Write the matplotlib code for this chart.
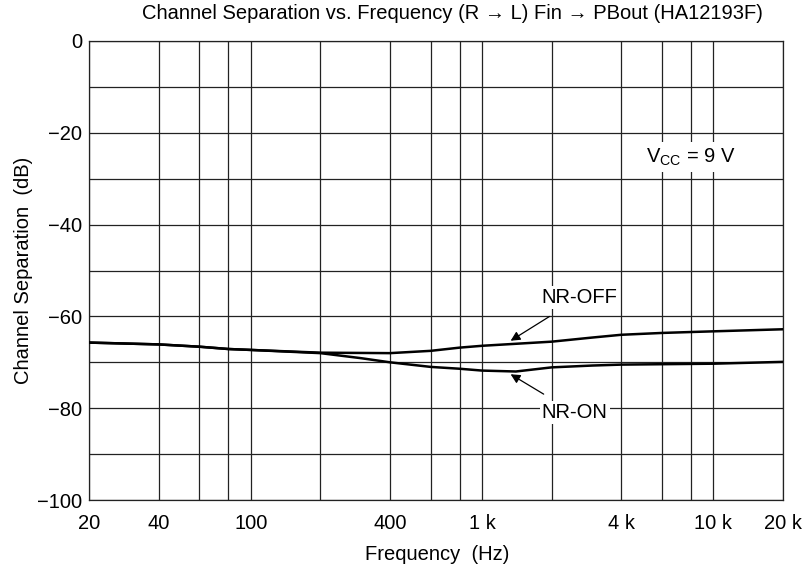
import matplotlib
matplotlib.use("Agg")
import matplotlib.pyplot as plt
from matplotlib.ticker import FixedLocator, NullFormatter, NullLocator

plt.rcParams["font.family"] = ["Liberation Sans", "DejaVu Sans"]
plt.rcParams["mathtext.fontset"] = "custom"
plt.rcParams["mathtext.rm"] = "Liberation Sans"

# Data
freq_off = [20, 40, 60, 80, 100, 200, 400, 600, 800, 1000, 2000, 3000, 4000, 6000, 8000, 10000, 20000]
nr_off = [-65.7, -66.1, -66.6, -67.1, -67.3, -67.9, -68.0, -67.5, -66.8, -66.4, -65.5, -64.6, -64.0, -63.6, -63.4, -63.25, -62.8]

freq_on = [20, 40, 60, 80, 100, 200, 300, 400, 600, 800, 1000, 1400, 2000, 3000, 4000, 10000, 20000]
nr_on = [-65.7, -66.1, -66.6, -67.1, -67.3, -68.0, -69.1, -70.0, -71.0, -71.4, -71.8, -72.0, -71.1, -70.7, -70.5, -70.3, -69.9]

grid_freqs = [20, 40, 60, 80, 100, 200, 400, 600, 800, 1000, 2000, 4000, 6000, 8000, 10000, 20000]
tick_freqs = [20, 40, 100, 400, 1000, 4000, 10000, 20000]
tick_labels = ["20", "40", "100", "400", "1 k", "4 k", "10 k", "20 k"]
y_grid = list(range(-100, 1, 10))
y_ticks = list(range(-100, 1, 20))

fs = 14.5

fig = plt.figure(figsize=(8.05, 5.71), dpi=100)
ax = fig.add_axes([0.1106, 0.1243, 0.8621, 0.8039])

ax.set_xscale("log")
ax.set_xlim(20, 20000)
ax.set_ylim(-100, 0)

for f in grid_freqs:
    ax.axvline(f, color="#222222", lw=0.9, zorder=1)
for v in y_grid:
    ax.axhline(v, color="#222222", lw=0.9, zorder=1)

ax.plot(freq_off, nr_off, color="black", lw=1.8, zorder=3)
ax.plot(freq_on, nr_on, color="black", lw=1.8, zorder=3)

ax.xaxis.set_major_locator(FixedLocator(tick_freqs))
ax.set_xticklabels(tick_labels)
ax.xaxis.set_minor_locator(NullLocator())
ax.xaxis.set_minor_formatter(NullFormatter())
ax.set_yticks(y_ticks)
ax.set_yticklabels([("\u2212" + str(-v)) if v < 0 else str(v) for v in y_ticks])
ax.tick_params(length=0, labelsize=fs)
ax.tick_params(axis="x", pad=10)
ax.tick_params(axis="y", pad=5)

for s in ax.spines.values():
    s.set_color("#222222")
    s.set_linewidth(0.9)

ax.set_xlabel("Frequency  (Hz)", fontsize=fs)
ax.set_ylabel("Channel Separation  (dB)", fontsize=fs)
ax.xaxis.set_label_coords(0.502, -0.097)
ax.yaxis.set_label_coords(-0.081, 0.5)
fig.text(0.562, 0.976, "Channel Separation vs. Frequency (R \u2192 L) Fin \u2192 PBout (HA12193F)",
         ha="center", va="center", fontsize=fs)

box = dict(facecolor="white", edgecolor="none", pad=1.5)
ax.annotate("NR-OFF", xy=(1329, -65.3), xytext=(2643, -55.9), fontsize=fs,
            ha="center", va="center", bbox=box, zorder=5,
            arrowprops=dict(arrowstyle="-|>", color="black", lw=0.9,
                            shrinkA=10, shrinkB=0, mutation_scale=14))
ax.annotate("NR-ON", xy=(1329, -72.6), xytext=(2515, -81.0), fontsize=fs,
            ha="center", va="center", bbox=box, zorder=5,
            arrowprops=dict(arrowstyle="-|>", color="black", lw=0.9,
                            shrinkA=10, shrinkB=0, mutation_scale=14))
ax.text(8000, -25.3, r"V$_{\mathregular{CC}}$ = 9 V", fontsize=fs,
        ha="center", va="center", bbox=dict(facecolor="white", edgecolor="none", pad=3), zorder=5)

fig.savefig("out.png", dpi=100)
